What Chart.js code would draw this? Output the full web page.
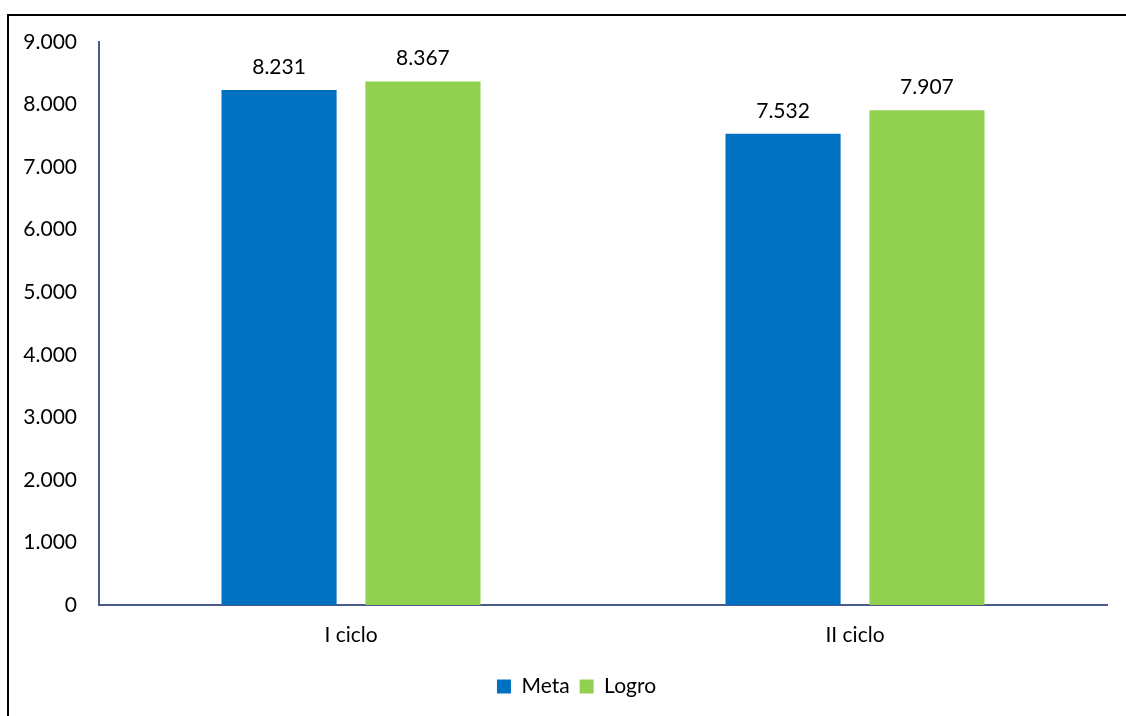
<!DOCTYPE html>
<html>
<head>
<meta charset="utf-8">
<script src="https://cdn.jsdelivr.net/npm/chart.js@4/dist/chart.umd.min.js"></script>
<style>
  html, body { margin: 0; padding: 0; background: #fff; }
  #wrap { position: relative; width: 1126px; height: 716px; }
  #frame { position: absolute; left: 7px; top: 14px; width: 1130px; height: 720px;
           border-left: 2px solid #000; border-top: 2px solid #000; box-sizing: border-box; }
  canvas { position: absolute; left: 0; top: 0; }
</style>
</head>
<body>
<div id="wrap">
  <div id="frame"></div>
  <canvas id="chart" width="1126" height="716"></canvas>
</div>
<script>
const categories = ["I ciclo", "II ciclo"];
const metaValues = [8231, 7532];
const logroValues = [8367, 7907];
const yTicks = [0, 1000, 2000, 3000, 4000, 5000, 6000, 7000, 8000, 9000];

const FONT = "Lato, 'Open Sans', sans-serif";
const fmt = (v) => String(v).replace(/\B(?=(\d{3})+(?!\d))/g, ".");

const valueLabels = {
  id: "valueLabels",
  afterDatasetsDraw(chart) {
    const ctx = chart.ctx;
    ctx.save();
    ctx.font = "21px " + FONT;
    ctx.fillStyle = "#000";
    ctx.textAlign = "center";
    ctx.textBaseline = "middle";
    chart.data.datasets.forEach((ds, i) => {
      chart.getDatasetMeta(i).data.forEach((bar, j) => {
        ctx.fillText(fmt(ds.data[j]), bar.x, bar.y - 23);
      });
    });
    ctx.restore();
  },
};

// the original legend sits a bit right of the canvas centre
const legendShift = {
  id: "legendShift",
  afterLayout(chart) {
    if (chart.legend) chart.legend.left += 46;
  },
};

new Chart(document.getElementById("chart").getContext("2d"), {
  type: "bar",
  data: {
    labels: categories,
    datasets: [
      { label: "Meta", data: metaValues, backgroundColor: "#0070C0",
        categoryPercentage: 0.571, barPercentage: 0.8 },
      { label: "Logro", data: logroValues, backgroundColor: "#92D050",
        categoryPercentage: 0.571, barPercentage: 0.8 },
    ],
  },
  options: {
    responsive: false,
    animation: false,
    layout: { padding: { top: 42, right: 19, bottom: 9, left: 0 } },
    plugins: {
      tooltip: { enabled: false },
      legend: {
        position: "bottom",
        labels: {
          color: "#000",
          font: { family: FONT, size: 21 },
          boxWidth: 14,
          boxHeight: 14,
          padding: 10,
        },
      },
    },
    scales: {
      x: {
        grid: { display: false, drawTicks: false },
        border: { color: "#4A5A8C", width: 2 },
        ticks: { color: "#000", font: { family: FONT, size: 21 }, padding: 18 },
        afterFit: (s) => { s.height = 61; },
      },
      y: {
        min: 0,
        max: 9000,
        grid: { display: false, drawTicks: false },
        border: { color: "#4A5A8C", width: 2 },
        afterBuildTicks: (s) => { s.ticks = yTicks.map((v) => ({ value: v })); },
        afterFit: (s) => { s.width = 99; },
        ticks: {
          color: "#000",
          font: { family: FONT, size: 21 },
          padding: 22,
          callback: (v) => fmt(v),
        },
      },
    },
  },
  plugins: [valueLabels, legendShift],
});
</script>
</body>
</html>
